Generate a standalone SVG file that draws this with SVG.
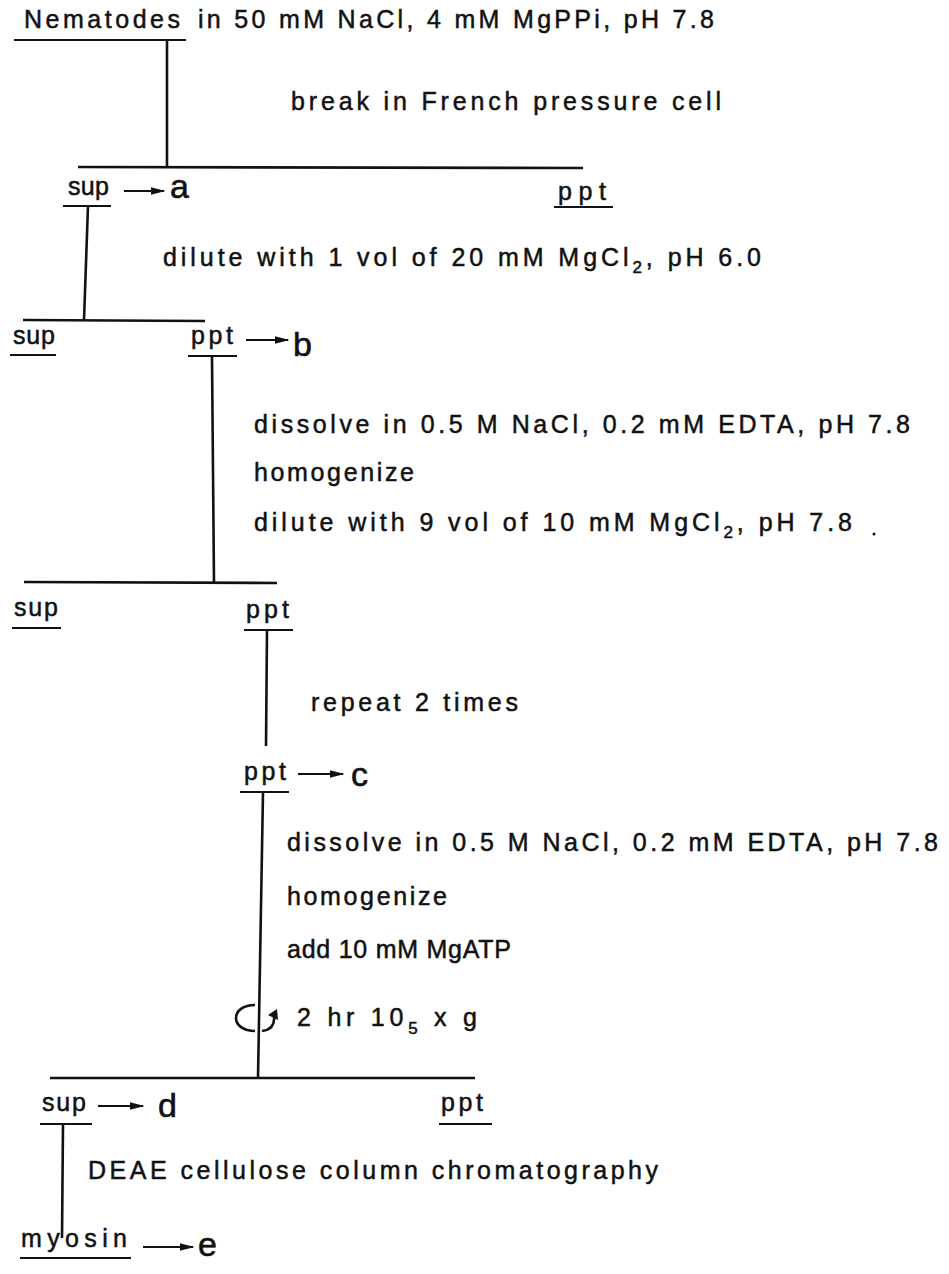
<svg xmlns="http://www.w3.org/2000/svg" width="949" height="1274" viewBox="0 0 949 1274">
<defs>
<style>
text{font-family:"Liberation Sans",Arial,sans-serif;font-size:25px;fill:#111;stroke:#111;stroke-width:0.5;}
.big{font-size:34px;stroke-width:0.6;}
.sub{font-size:17px;}
.ln{stroke:#111;stroke-width:2.6;fill:none;}
.ul{stroke:#111;stroke-width:2.2;fill:none;}
.ar{stroke:#111;stroke-width:2.2;fill:none;marker-end:url(#ah);}
</style>
<marker id="ah" viewBox="0 0 10 10" refX="9" refY="5" markerWidth="15" markerHeight="8" markerUnits="userSpaceOnUse" orient="auto" preserveAspectRatio="none"><path d="M0,0 L10,5 L0,10 z" fill="#111"/></marker>
</defs>
<rect width="949" height="1274" fill="#fff"/>
<g id="connectors">
<line class="ln" x1="167" y1="40" x2="167" y2="167"/>
<line class="ln" x1="78" y1="167" x2="583" y2="168"/>
<line class="ln" x1="88" y1="206" x2="84" y2="320"/>
<line class="ln" x1="23" y1="320" x2="205" y2="321"/>
<line class="ln" x1="212" y1="357" x2="214" y2="583"/>
<line class="ln" x1="24" y1="582" x2="277" y2="583"/>
<line class="ln" x1="267" y1="630" x2="266" y2="746"/>
<line class="ln" x1="263" y1="792" x2="258" y2="1078"/>
<line class="ln" x1="50" y1="1078" x2="475" y2="1078"/>
<line class="ln" x1="63" y1="1124" x2="62" y2="1238"/>
<line class="ar" x1="124" y1="191" x2="164" y2="191"/>
<line class="ar" x1="246" y1="340" x2="288" y2="340"/>
<line class="ar" x1="298" y1="774" x2="343" y2="774"/>
<line class="ar" x1="98" y1="1106" x2="143" y2="1106"/>
<line class="ar" x1="143" y1="1247" x2="193" y2="1247"/>
</g>
<g id="n-start">
<text x="24" y="28" textLength="156" lengthAdjust="spacing">Nematodes</text>
<text x="198" y="28" textLength="516" lengthAdjust="spacing">in 50 mM NaCl, 4 mM MgPPi, pH 7.8</text>
<line class="ul" x1="14" y1="40" x2="186" y2="40"/>
</g>
<g id="step-break">
<text x="291" y="110" textLength="430" lengthAdjust="spacing">break in French pressure cell</text>
</g>
<g id="n-sup1">
<text x="68" y="195" textLength="41" lengthAdjust="spacing">sup</text>
<line class="ul" x1="63" y1="206" x2="111" y2="206"/>
<text class="big" x="170" y="198">a</text>
</g>
<g id="n-ppt1">
<text x="558" y="200" textLength="48" lengthAdjust="spacing">ppt</text>
<line class="ul" x1="554" y1="207" x2="613" y2="207"/>
</g>
<g id="step-dilute1">
<text x="163" y="266" textLength="598" lengthAdjust="spacing">dilute with 1 vol of 20 mM MgCl<tspan class="sub" dy="7">2</tspan><tspan dy="-7">, pH 6.0</tspan></text>
</g>
<g id="n-sup2">
<text x="13" y="344" textLength="42" lengthAdjust="spacing">sup</text>
<line class="ul" x1="10" y1="355" x2="56" y2="355"/>
</g>
<g id="n-ppt2">
<text x="191" y="344" textLength="42" lengthAdjust="spacing">ppt</text>
<line class="ul" x1="188" y1="356" x2="237" y2="356"/>
<text class="big" x="293" y="356">b</text>
</g>
<g id="step-dissolve1">
<text x="254" y="433" textLength="656" lengthAdjust="spacing">dissolve in 0.5 M NaCl, 0.2 mM EDTA, pH 7.8</text>
<text x="254" y="481" textLength="160" lengthAdjust="spacing">homogenize</text>
<text x="254" y="531" textLength="598" lengthAdjust="spacing">dilute with 9 vol of 10 mM MgCl<tspan class="sub" dy="7">2</tspan><tspan dy="-7">, pH 7.8</tspan></text>
<circle cx="874" cy="534" r="1.5" fill="#111"/>
</g>
<g id="n-sup3">
<text x="14" y="616" textLength="44" lengthAdjust="spacing">sup</text>
<line class="ul" x1="12" y1="628" x2="61" y2="628"/>
</g>
<g id="n-ppt3">
<text x="246" y="618" textLength="43" lengthAdjust="spacing">ppt</text>
<line class="ul" x1="244" y1="630" x2="293" y2="630"/>
</g>
<g id="step-repeat">
<text x="311" y="711" textLength="207" lengthAdjust="spacing">repeat 2 times</text>
</g>
<g id="n-ppt4">
<text x="244" y="780" textLength="42" lengthAdjust="spacing">ppt</text>
<line class="ul" x1="240" y1="792" x2="289" y2="792"/>
<text class="big" x="351" y="786">c</text>
</g>
<g id="step-dissolve2">
<text x="287" y="851" textLength="651" lengthAdjust="spacing">dissolve in 0.5 M NaCl, 0.2 mM EDTA, pH 7.8</text>
<text x="287" y="905" textLength="160" lengthAdjust="spacing">homogenize</text>
<text x="287" y="958" textLength="224" lengthAdjust="spacing">add 10 mM MgATP</text>
</g>
<g id="step-centrifuge">
<path class="ln" d="M255,1005 C243,1005 236,1011 236,1018 C236,1025 243,1031 255,1031" stroke-width="2.2"/>
<path class="ln" d="M262,1031 C271,1030 275,1025 274,1016" stroke-width="2.2"/>
<path d="M268,1015 L277,1009 L278,1020 z" fill="#111"/>
<text x="297" y="1026" textLength="180" lengthAdjust="spacing">2 hr 10<tspan class="sub" dy="8">5</tspan><tspan dy="-8"> x g</tspan></text>
</g>
<g id="n-sup4">
<text x="42" y="1111" textLength="44" lengthAdjust="spacing">sup</text>
<line class="ul" x1="40" y1="1124" x2="92" y2="1124"/>
<text class="big" x="158" y="1117">d</text>
</g>
<g id="n-ppt5">
<text x="441" y="1111" textLength="42" lengthAdjust="spacing">ppt</text>
<line class="ul" x1="439" y1="1124" x2="492" y2="1124"/>
</g>
<g id="step-deae">
<text x="88" y="1179" textLength="570" lengthAdjust="spacing">DEAE cellulose column chromatography</text>
</g>
<g id="n-myosin">
<text x="21" y="1247" textLength="106" lengthAdjust="spacing">myosin</text>
<line class="ul" x1="20" y1="1258" x2="131" y2="1258"/>
<text class="big" x="198" y="1256">e</text>
</g>
</svg>
